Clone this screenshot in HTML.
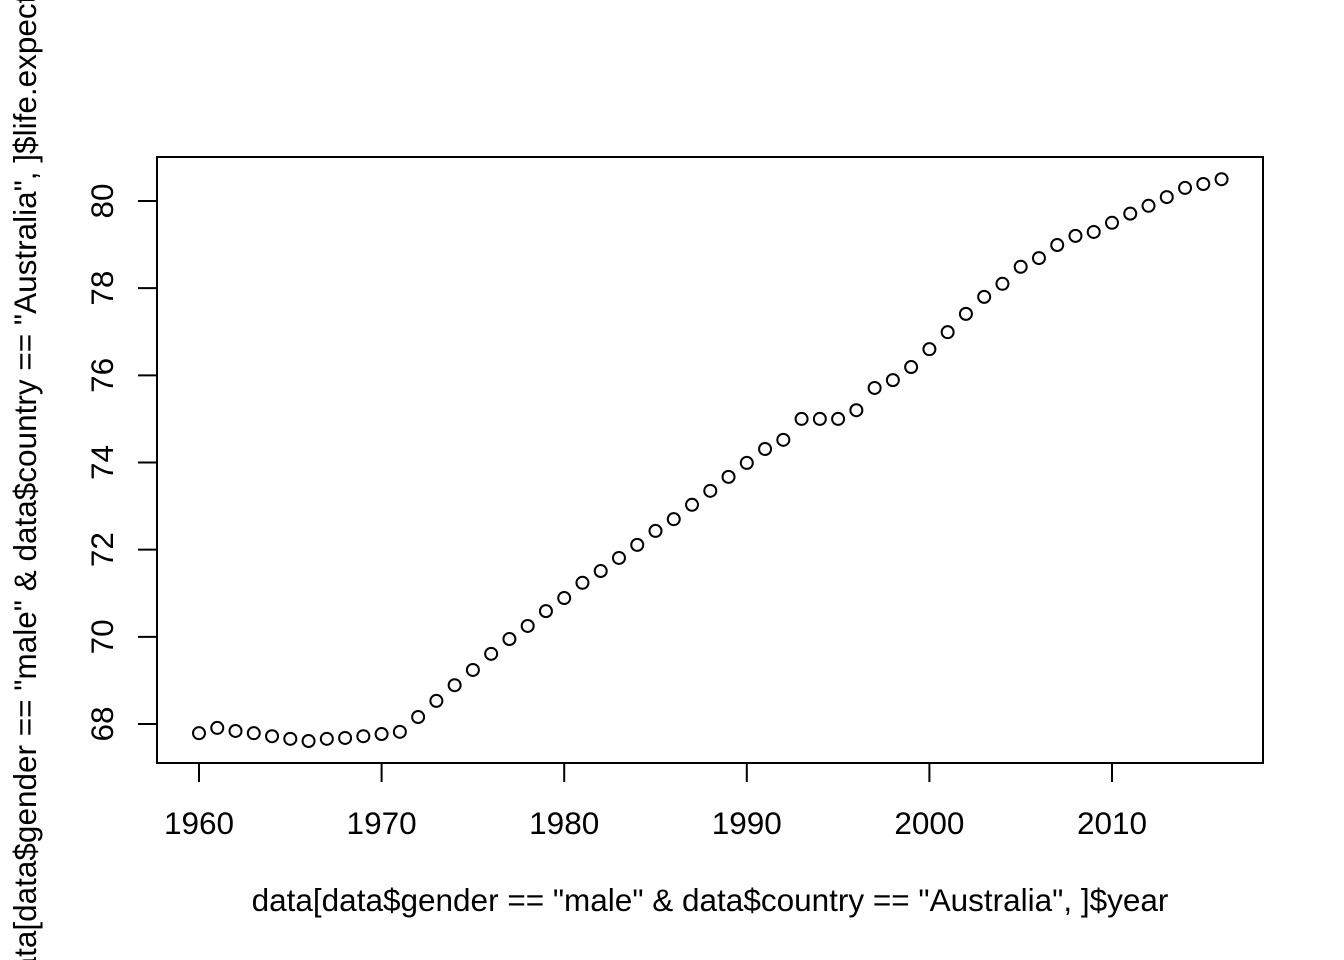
<!DOCTYPE html>
<html><head><meta charset="utf-8"><style>
html,body{margin:0;padding:0;background:#fff;}
svg{display:block;font-family:"Liberation Sans",Arial,sans-serif;}
</style></head><body>
<svg id="chart" width="1344" height="960" viewBox="0 0 1344 960">
<rect x="157" y="157" width="1106" height="606" fill="none" stroke="#000" stroke-width="2"/>
<g id="xaxis"></g>
<g id="yaxis"></g>
<g id="points"></g>
<text x="710" y="911" font-size="31.5" text-anchor="middle">data[data$gender == "male" &amp; data$country == "Australia", ]$year</text>
<text transform="translate(36,460) rotate(-90)" font-size="31.5" text-anchor="middle">data[data$gender == "male" &amp; data$country == "Australia", ]$life.expectancy</text>
</svg>
<script>
const years = [1960,1961,1962,1963,1964,1965,1966,1967,1968,1969,1970,1971,1972,1973,1974,1975,1976,1977,1978,1979,1980,1981,1982,1983,1984,1985,1986,1987,1988,1989,1990,1991,1992,1993,1994,1995,1996,1997,1998,1999,2000,2001,2002,2003,2004,2005,2006,2007,2008,2009,2010,2011,2012,2013,2014,2015,2016];
const lifeExp = [67.79,67.91,67.84,67.79,67.72,67.66,67.61,67.66,67.68,67.72,67.77,67.82,68.16,68.53,68.89,69.24,69.61,69.95,70.25,70.59,70.89,71.24,71.51,71.81,72.11,72.43,72.70,73.03,73.35,73.67,73.99,74.31,74.52,75.0,75.0,75.0,75.2,75.71,75.89,76.19,76.60,76.99,77.41,77.80,78.10,78.49,78.69,78.99,79.20,79.29,79.50,79.71,79.89,80.09,80.30,80.39,80.50];
const xTicks = [1960,1970,1980,1990,2000,2010];
const yTicks = [68,70,72,74,76,78,80];
const NS="http://www.w3.org/2000/svg";
function sx(v){return 199+(v-1960)*(1112-199)/50;}
function sy(v){return 724-(v-68)*(724-201)/12;}
function mk(tag,attrs,parent){const e=document.createElementNS(NS,tag);for(const k in attrs)e.setAttribute(k,attrs[k]);parent.appendChild(e);return e;}
const xa=document.getElementById('xaxis'),ya=document.getElementById('yaxis'),pg=document.getElementById('points');
mk('line',{x1:sx(xTicks[0]),x2:sx(xTicks[xTicks.length-1]),y1:763,y2:763,stroke:'#000','stroke-width':2},xa);
xTicks.forEach(t=>{
  const l=mk('line',{x1:sx(t),x2:sx(t),y1:763,y2:782,stroke:'#000','stroke-width':2},xa);
  
  
  const tx=mk('text',{x:sx(t),y:834,'font-size':31.5,'text-anchor':'middle'},xa);
  tx.textContent=t;
  
  
});
mk('line',{x1:157,x2:157,y1:sy(yTicks[0]),y2:sy(yTicks[yTicks.length-1]),stroke:'#000','stroke-width':2},ya);
yTicks.forEach(t=>{
  const l=mk('line',{x1:138,x2:157,y1:sy(t),y2:sy(t),stroke:'#000','stroke-width':2},ya);
  
  
  const tx=mk('text',{transform:`translate(113,${sy(t)}) rotate(-90)`,'font-size':31.5,'text-anchor':'middle'},ya);
  tx.textContent=t;
  
  
});
years.forEach((y,i)=>{
  const c=mk('circle',{cx:sx(y),cy:sy(lifeExp[i]),r:6,fill:'none',stroke:'#000','stroke-width':2},pg);
  
  
});
</script>
</body></html>
